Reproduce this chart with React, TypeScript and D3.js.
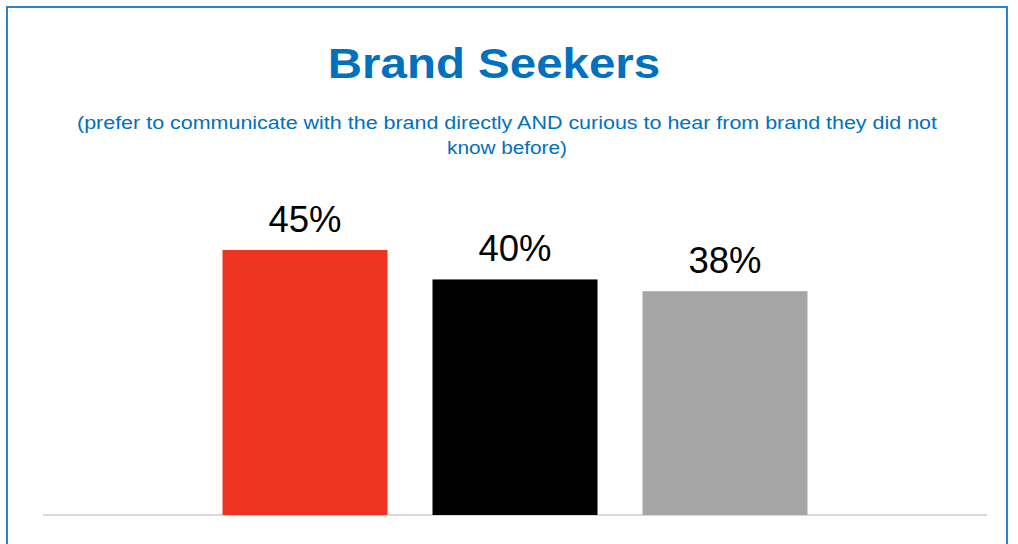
import React from "react";
import * as d3 from "d3";

const categories = ["A", "B", "C"];
const values = [45, 40, 38];
const valueLabels = ["45%", "40%", "38%"];
const barColors = ["#ef3424", "#000000", "#a6a6a6"];
const titleText = "Brand Seekers";
const subtitleLines = [
  "(prefer to communicate with the brand directly AND curious to hear from brand they did not",
  "know before)",
];
const subtitleWidths = [860, 120];

export default function App() {
  const W = 1018;
  const H = 544;
  const baseY = 515;
  const x = d3
    .scaleBand<string>()
    .domain(categories)
    .range([200, 830])
    .paddingInner(45 / 210)
    .paddingOuter(45 / 420);
  const y = d3.scaleLinear().domain([0, 45]).range([baseY, 250]);
  const font = "Arial, 'Liberation Sans', Helvetica, sans-serif";
  return (
    <svg
      width={W}
      height={H}
      style={{ position: "absolute", left: 0, top: 0, background: "#fff" }}
    >
      <rect x={7} y={7} width={1000} height={620} fill="#fff" stroke="#1576c9" strokeWidth={1.8} />
      <g transform={`translate(494,78) scale(1.13,1)`}>
        <text textAnchor="middle" fontFamily={font} fontWeight="bold" fontSize={42} fill="#0070c0">
          {titleText}
        </text>
      </g>
      {subtitleLines.map((t, i) => (
        <text
          key={i}
          x={507}
          y={129 + i * 25}
          textAnchor="middle"
          fontFamily={font}
          fontSize={18.3}
          fill="#0070c0"
          textLength={subtitleWidths[i]}
          lengthAdjust="spacingAndGlyphs"
        >
          {t}
        </text>
      ))}
      <line x1={43} x2={987} y1={baseY} y2={baseY} stroke="#d9d9d9" strokeWidth={2} />
      {categories.map((c, i) => (
        <g key={c}>
          <rect
            x={x(c)}
            y={y(values[i])}
            width={x.bandwidth()}
            height={baseY - y(values[i])}
            fill={barColors[i]}
          />
          <text
            x={(x(c) as number) + x.bandwidth() / 2}
            y={y(values[i]) - 18}
            textAnchor="middle"
            fontFamily={font}
            fontSize={36.5}
            fill="#000"
          >
            {valueLabels[i]}
          </text>
        </g>
      ))}
    </svg>
  );
}
